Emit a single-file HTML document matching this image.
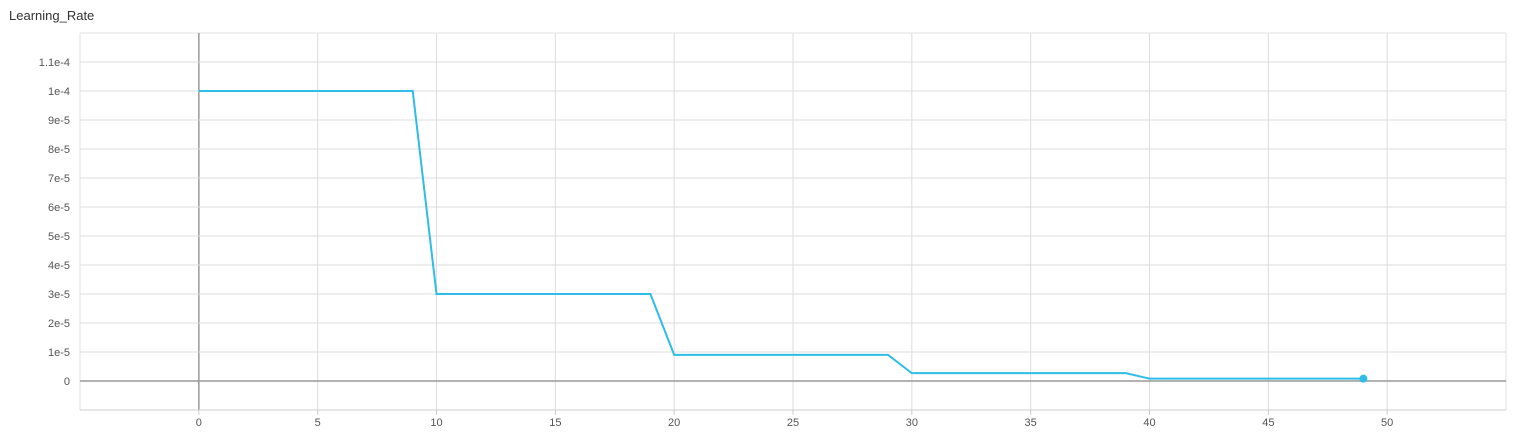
<!DOCTYPE html>
<html><head><meta charset="utf-8"><style>
body{margin:0;background:#fff;font-family:"Liberation Sans",sans-serif;}
</style></head><body>
<svg width="1514" height="434" xmlns="http://www.w3.org/2000/svg" font-family="Liberation Sans, sans-serif">
<text x="9" y="20" font-size="13" fill="#333">Learning_Rate</text>
<g id="grid"></g><g id="axes"></g><g id="series"></g>
</svg>
<script>
const steps=[0,9,10,19,20,29,30,39,40,49];
const values=[1e-4,1e-4,3e-5,3e-5,9e-6,9e-6,2.7e-6,2.7e-6,8.1e-7,8.1e-7];
const xTicks=[0,5,10,15,20,25,30,35,40,45,50];
const yTicks=[0,1e-5,2e-5,3e-5,4e-5,5e-5,6e-5,7e-5,8e-5,9e-5,1e-4,1.1e-4];
const yLabels=["0","1e-5","2e-5","3e-5","4e-5","5e-5","6e-5","7e-5","8e-5","9e-5","1e-4","1.1e-4"];
const L=80,R=1506,T=33,B=410,xMin=-5,xMax=55,yMin=-1e-5,yMax=1.2e-4;
const X=v=>L+(v-xMin)/(xMax-xMin)*(R-L);
const Y=v=>B-(v-yMin)/(yMax-yMin)*(B-T);
const NS="http://www.w3.org/2000/svg";
function mk(tag,attrs,parent){const e=document.createElementNS(NS,tag);for(const k in attrs)e.setAttribute(k,attrs[k]);document.getElementById(parent).appendChild(e);return e;}
// frame gridlines
let e=mk('line',{x1:L,x2:R,y1:T,y2:T,stroke:'#e0e0e0'},'grid');


e=mk('line',{x1:L,x2:L,y1:T,y2:B,stroke:'#e0e0e0'},'grid');


e=mk('line',{x1:R,x2:R,y1:T,y2:B,stroke:'#e0e0e0'},'grid');


e=mk('line',{x1:L,x2:R,y1:B,y2:B,stroke:'#ccc'},'axes');


xTicks.forEach(t=>{
  const x=X(t);
  let g=mk('line',{x1:x,x2:x,y1:T,y2:B,stroke:t===0?'#999':'#ddd','stroke-width':t===0?1.5:1},'grid');
  
  
  let tk=mk('line',{x1:x,x2:x,y1:B,y2:B+5,stroke:'#ccc'},'axes');
  
  
  let tx=mk('text',{x:x,y:B+16,'font-size':11,'text-anchor':'middle',fill:'#555'},'axes');
  tx.textContent=t;
  
  
});
yTicks.forEach((t,i)=>{
  const y=Y(t);
  let g=mk('line',{x1:L,x2:R,y1:y,y2:y,stroke:t===0?'#999':'#ddd','stroke-width':t===0?1.5:1},'grid');
  
  
  let tx=mk('text',{x:70,y:y+4,'font-size':11,'text-anchor':'end',fill:'#555'},'axes');
  tx.textContent=yLabels[i];
  
  
});
const pts=steps.map((s,i)=>X(s)+','+Y(values[i])).join(' ');
let p=mk('polyline',{points:pts,fill:'none',stroke:'#2fbde8','stroke-width':2},'series');


const n=steps.length-1;
let c=mk('circle',{cx:X(steps[n]),cy:Y(values[n]),r:4,fill:'#2fbde8'},'series');


</script>
</body></html>
